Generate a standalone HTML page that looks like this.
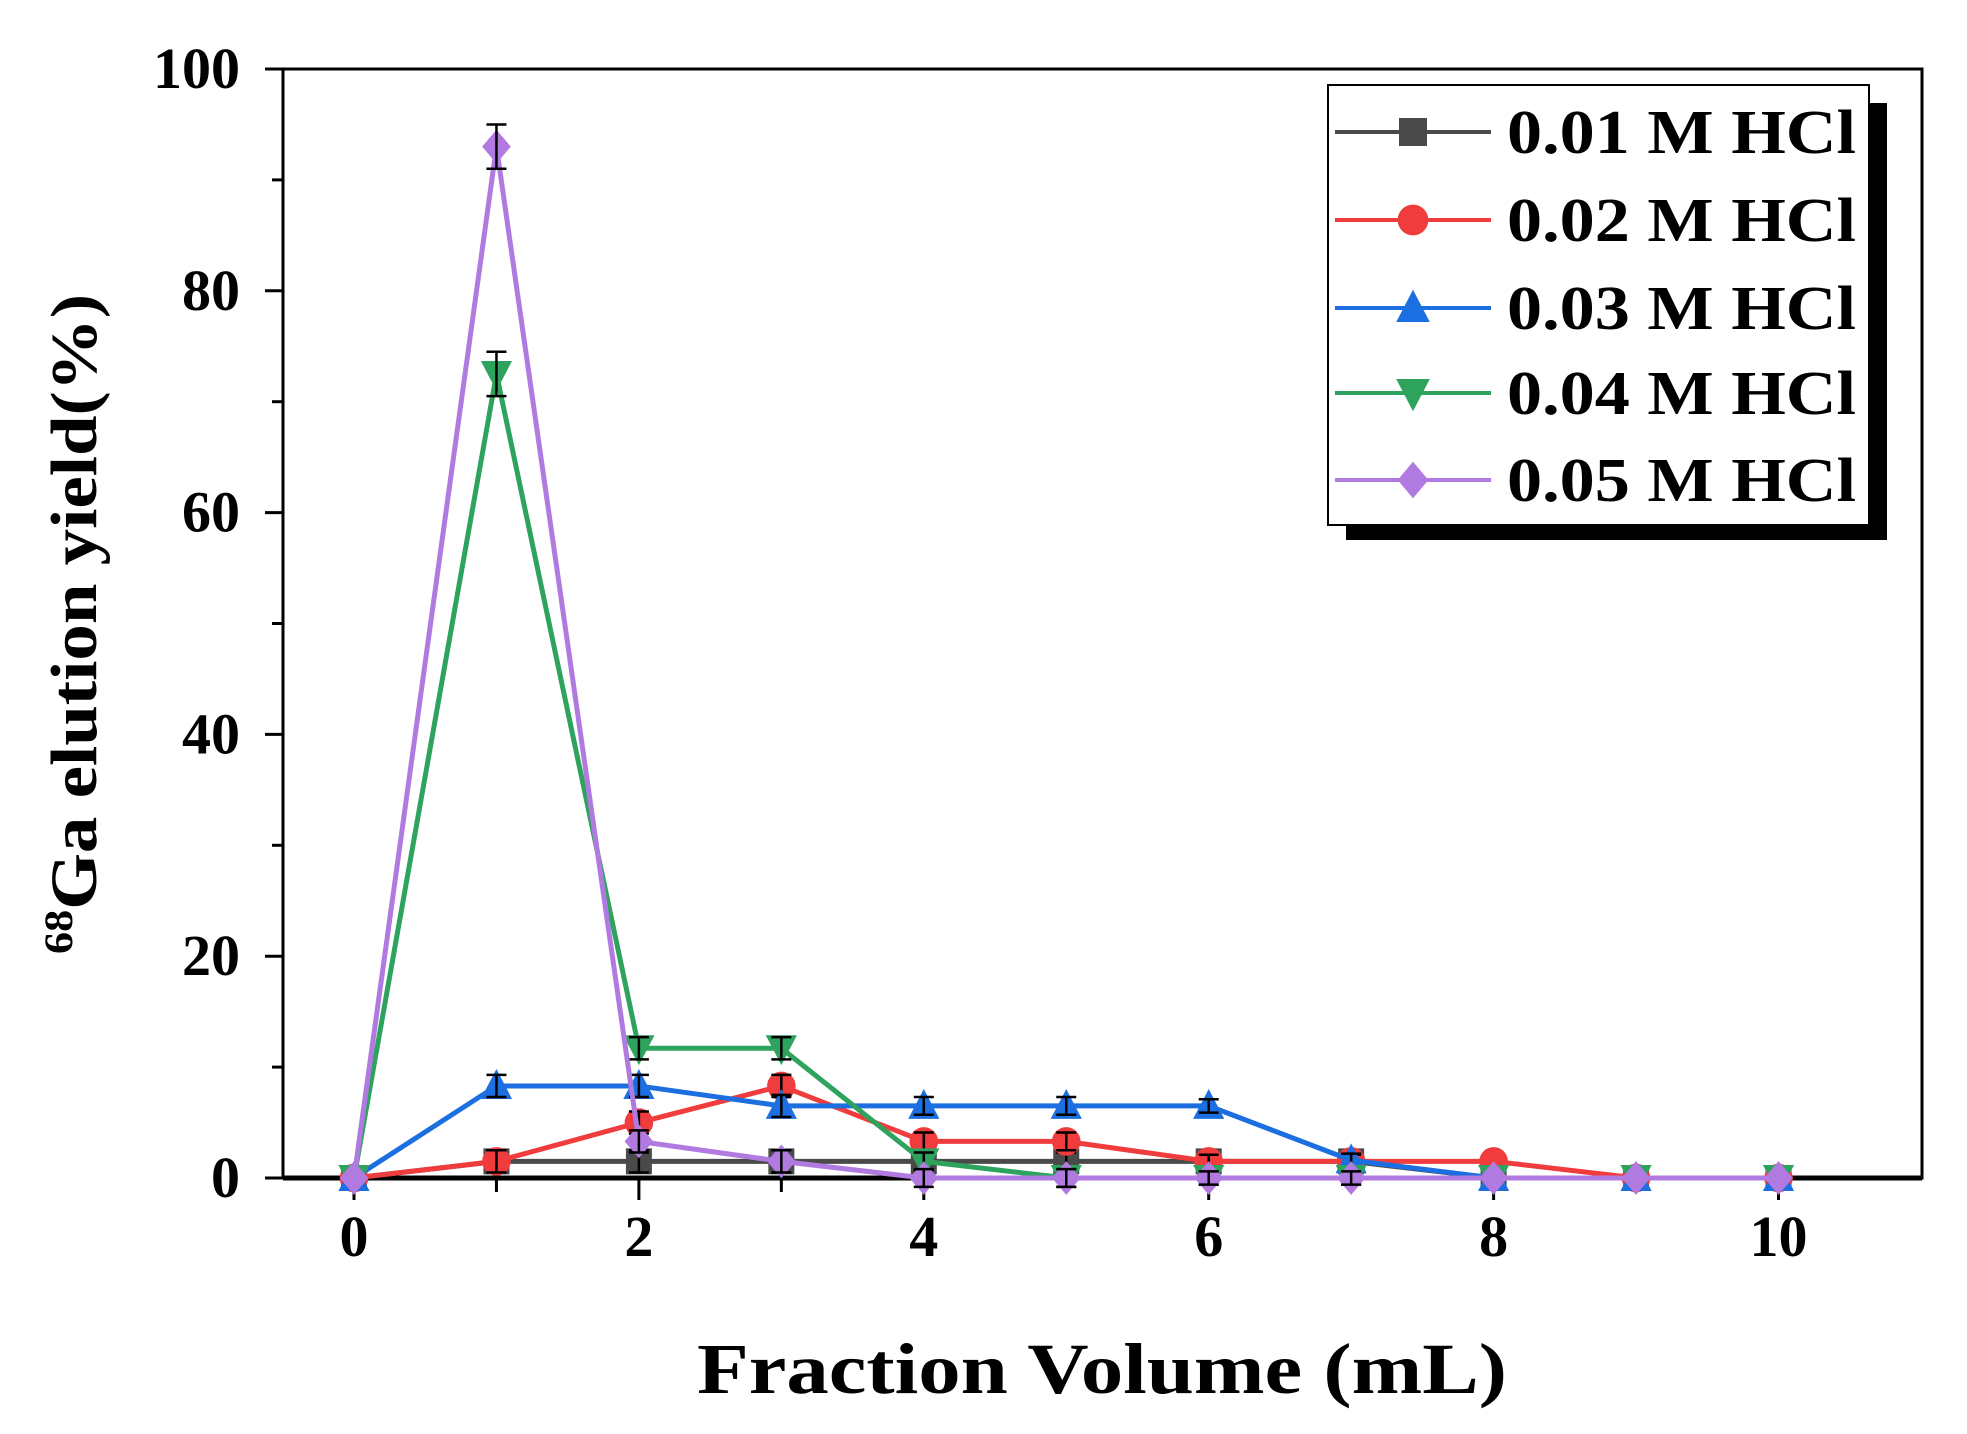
<!DOCTYPE html>
<html><head><meta charset="utf-8"><style>
html,body{margin:0;padding:0;background:#fff;}
svg{display:block;font-family:"Liberation Serif",serif;font-weight:bold;}
</style></head><body>
<svg id="chart" width="1967" height="1434" viewBox="0 0 1967 1434" xmlns="http://www.w3.org/2000/svg">
<g id="axes"></g>
<g id="series"></g>
<g id="legend"></g>
<text x="1102" y="1393" font-size="72" text-anchor="middle" textLength="810" lengthAdjust="spacingAndGlyphs">Fraction Volume (mL)</text>
<text transform="translate(96,624) rotate(-90)" font-size="66" text-anchor="middle" textLength="660" lengthAdjust="spacingAndGlyphs"><tspan font-size="40" dy="-24">68</tspan><tspan dy="24">Ga elution yield(%)</tspan></text>
</svg>
<script>
const xValues=[0,1,2,3,4,5,6,7,8,9,10];
const seriesNames=["0.01 M HCl","0.02 M HCl","0.03 M HCl","0.04 M HCl","0.05 M HCl"];
const s001=[0,1.5,1.5,1.5,1.5,1.5,1.5,1.5,0,0,0];
const s002=[0,1.5,5,8.3,3.3,3.3,1.5,1.5,1.5,0,0];
const s003=[0,8.3,8.3,6.5,6.5,6.5,6.5,1.6,0,0,0];
const s004=[0,72.5,11.7,11.7,1.5,0,0,0,0,0,0];
const s005=[0,93,3.3,1.5,0,0,0,0,0,0,0];
const errVals=[0,1,1,1,0.8,0.8,0.6,0.6,0,0,0];
const xTicks=[0,2,4,6,8,10];
const yTicks=[0,20,40,60,80,100];
const NS="http://www.w3.org/2000/svg";
const L=283,R=1922,T=69,B=1178;
const X=v=>354+v*142.45;
const Y=v=>B-(v/100)*(B-T);
function el(tag,attrs,parent){const e=document.createElementNS(NS,tag);for(const k in attrs)e.setAttribute(k,attrs[k]);parent.appendChild(e);return e;}
const axes=document.getElementById('axes');
let f=el('rect',{x:L,y:T,width:R-L,height:B-T,fill:'none',stroke:'#000','stroke-width':3},axes);

let bx=el('line',{x1:L,y1:B,x2:R,y2:B,stroke:'#000','stroke-width':5},axes);

for(let v=0;v<=10.5;v+=1){let t=el('line',{x1:X(v),y1:B,x2:X(v),y2:B+(v%2==0?22:14),stroke:'#000','stroke-width':3},axes);
}
xTicks.forEach(v=>{let t=el('text',{x:X(v),y:1256,'font-size':58,'text-anchor':'middle'},axes);t.textContent=v;
});
for(let v=0;v<=100;v+=10){let t=el('line',{x1:L,y1:Y(v),x2:L-(v%20==0?18:11),y2:Y(v),stroke:'#000','stroke-width':3},axes);
}
yTicks.forEach(v=>{let t=el('text',{x:240,y:Y(v)+19,'font-size':58,'text-anchor':'end'},axes);t.textContent=v;
});
const colors=['#4a4a4a','#f03c3c','#1c6fe0','#2ea35e','#b07ae0'];
const shapes=['square','circle','up','down','diamond'];
const data=[s001,s002,s003,s004,s005];
function marker(g,shape,cx,cy,c,s){
 let m;
 if(shape=='square')m=el('rect',{x:cx-s,y:cy-s,width:2*s,height:2*s,fill:c},g);
 else if(shape=='circle')m=el('circle',{cx:cx,cy:cy,r:s*1.1,fill:c},g);
 else if(shape=='up')m=el('polygon',{points:`${cx},${cy-s*1.3} ${cx+s*1.2},${cy+s} ${cx-s*1.2},${cy+s}`,fill:c},g);
 else if(shape=='down')m=el('polygon',{points:`${cx},${cy+s*1.3} ${cx+s*1.2},${cy-s} ${cx-s*1.2},${cy-s}`,fill:c},g);
 else m=el('polygon',{points:`${cx},${cy-s*1.3} ${cx+s*1.1},${cy} ${cx},${cy+s*1.3} ${cx-s*1.1},${cy}`,fill:c},g);
 return m;}
const sg=document.getElementById('series');
data.forEach((d,i)=>{
 const g=el('g',{},sg);
 
 const p=el('polyline',{points:d.map((v,j)=>X(xValues[j])+','+Y(v)).join(' '),fill:'none',stroke:colors[i],'stroke-width':5},g);
 
 d.forEach((v,j)=>{
  const m=marker(g,shapes[i],X(xValues[j]),Y(v),colors[i],13);
  
  const e=errVals[j]*(v>20?2:1);
  if(e>0){const cx=X(xValues[j]);
   const eb=el('path',{d:`M${cx},${Y(v+e)}V${Y(v-e)}M${cx-10},${Y(v+e)}H${cx+10}M${cx-10},${Y(v-e)}H${cx+10}`,stroke:'#000','stroke-width':2.5,fill:'none'},g);
   }
 });
});
const lg=document.getElementById('legend');
let sh=el('rect',{x:1346,y:103,width:541,height:437,fill:'#000'},lg);

let bxr=el('rect',{x:1328,y:85,width:541,height:440,fill:'#fff',stroke:'#000','stroke-width':2},lg);

const rowsY=[132,220,308,393,480];
seriesNames.forEach((n,i)=>{
 const g=el('g',{},lg);
 
 el('line',{x1:1335,y1:rowsY[i],x2:1491,y2:rowsY[i],stroke:colors[i],'stroke-width':4},g);
 marker(g,shapes[i],1413,rowsY[i],colors[i],14);
 const t=el('text',{x:1507,y:rowsY[i]+21,'font-size':62,textLength:349,lengthAdjust:'spacingAndGlyphs'},g);t.textContent=n;
});
</script>
</body></html>
